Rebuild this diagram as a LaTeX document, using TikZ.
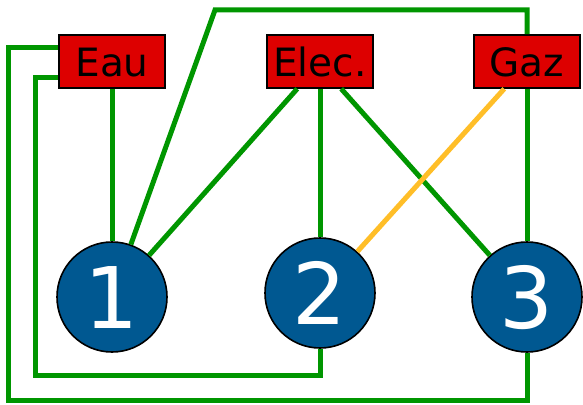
\documentclass[tikz,border=0pt]{standalone}
\usepackage{fontspec}
\setmainfont{DejaVu Sans}
\definecolor{boxred}{RGB}{221,0,0}
\definecolor{housebl}{RGB}{0,88,145}
\definecolor{wiregr}{RGB}{0,150,0}
\definecolor{wireyl}{RGB}{255,190,40}
\begin{document}
\begin{tikzpicture}[x=1pt,y=-1pt,
  util/.style={draw=black, line width=1.6pt, fill=boxred, rectangle,
    minimum width=106pt, minimum height=53pt, inner sep=0pt,
    font=\fontsize{39}{40}\selectfont, text=black, text height=29pt, text depth=0pt},
  house/.style={draw=black, line width=1.6pt, fill=housebl, circle,
    minimum size=110pt, inner sep=0pt,
    font=\fontsize{85}{85}\selectfont, text=white, text height=62pt, text depth=0pt},
  wire/.style={draw=wiregr, line width=5pt},
  gwire/.style={draw=wireyl, line width=5pt}]
\useasboundingbox (0,0) rectangle (583,404);
\node[util] (eau) at (112,61.5) {Eau};
\node[util] (elec) at (320,61.5) {Elec.};
\node[util] (gaz) at (527,61.5) {Gaz};
\node[house] (h1) at (112,297) {1};
\node[house] (h2) at (320,293) {2};
\node[house] (h3) at (527,297) {3};
\coordinate (tl) at (215,10);
\coordinate (outer) at (8,400);
\coordinate (inner) at (35,375);
% Eau
\draw[wire] (eau.south) -- (h1.north);
\draw[wire] ([yshift=-15.5pt]eau.west) -| (inner) -| (h2.south);
\draw[wire] ([yshift=13.5pt]eau.west) -| (outer) -| (h3.south);
% Elec
\draw[wire] ([xshift=31pt]elec.south west) -- (h1);
\draw[wire] (elec.south) -- (h2.north);
\draw[wire] ([xshift=75pt]elec.south west) -- (h3);
% Gaz
\draw[wire] (gaz.north) |- (tl) -- (h1);
\draw[gwire] ([xshift=31pt]gaz.south west) -- (h2);
\draw[wire] (gaz.south) -- (h3.north);
\end{tikzpicture}
\end{document}
